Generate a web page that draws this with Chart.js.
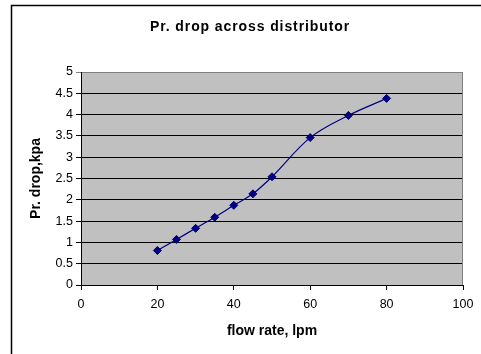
<!DOCTYPE html>
<html>
<head>
<meta charset="utf-8">
<script src="https://cdn.jsdelivr.net/npm/chart.js@4.4.1/dist/chart.umd.min.js"></script>
<style>
  html, body { margin: 0; padding: 0; background: #fff; }
  #wrap { width: 481px; height: 354px; position: relative; }
</style>
</head>
<body>
<div id="wrap"><canvas id="chart" width="481" height="354"></canvas></div>
<script>
// values
const flowRate = [20, 25, 30, 35, 40, 45, 50, 60, 70, 80];
const prDrop = [0.81, 1.07, 1.33, 1.59, 1.87, 2.14, 2.54, 3.46, 3.98, 4.38];
const xTicks = [0, 20, 40, 60, 80, 100];
const yTicks = [0, 0.5, 1, 1.5, 2, 2.5, 3, 3.5, 4, 4.5, 5];
const chartTitle = 'Pr. drop across distributor';

const FONT = "'Liberation Sans', Arial, sans-serif";

// outer frame, plot background, title, right border of plot area
const frame = {
  id: 'frame',
  beforeDraw(chart) {
    const ctx = chart.ctx;
    ctx.save();
    ctx.strokeStyle = '#000';
    ctx.lineWidth = 1.5;
    ctx.beginPath();
    ctx.moveTo(11.5, 360);
    ctx.lineTo(11.5, 5.5);
    ctx.lineTo(490, 5.5);
    ctx.stroke();
    const a = chart.chartArea;
    ctx.fillStyle = '#c0c0c0';
    ctx.fillRect(a.left, a.top, a.right - a.left, a.bottom - a.top);
    ctx.fillStyle = '#000';
    ctx.font = 'bold 14px ' + FONT;
    ctx.letterSpacing = '0.9px';
    ctx.textAlign = 'center';
    ctx.textBaseline = 'middle';
    ctx.fillText(chartTitle, 250, 27);
    ctx.restore();
  },
  afterDatasetsDraw(chart) {
    const ctx = chart.ctx;
    const a = chart.chartArea;
    ctx.save();
    ctx.strokeStyle = '#808080';
    ctx.lineWidth = 1;
    ctx.beginPath();
    ctx.moveTo(Math.round(a.right) - 0.5, a.top);
    ctx.lineTo(Math.round(a.right) - 0.5, a.bottom);
    ctx.stroke();
    ctx.restore();
  }
};

new Chart(document.getElementById('chart'), {
  type: 'line',
  data: {
    datasets: [{
      data: flowRate.map((x, i) => ({ x: x, y: prDrop[i] })),
      borderColor: '#000080',
      backgroundColor: '#000080',
      borderWidth: 1.2,
      pointStyle: 'rectRot',
      pointRadius: 4,
      pointBorderWidth: 1,
      tension: 0.35
    }]
  },
  options: {
    responsive: false,
    animation: false,
    layout: { padding: { left: 0, right: 18, top: 72, bottom: 0 } },
    plugins: {
      legend: { display: false },
      tooltip: { enabled: false },
      title: { display: false }
    },
    scales: {
      x: {
        type: 'linear',
        min: 0,
        max: 100,
        afterBuildTicks: s => { s.ticks = xTicks.map(v => ({ value: v })); },
        afterFit: s => { s.height = 69; },
        grid: {
          drawOnChartArea: false,
          drawTicks: true,
          tickLength: 5,
          color: '#000'
        },
        border: { color: '#000', width: 1 },
        ticks: {
          color: '#000',
          padding: 7,
          font: { family: FONT, size: 12.5 },
          callback: v => String(v)
        },
        title: {
          display: true,
          text: 'flow rate, lpm',
          color: '#000',
          font: { family: FONT, size: 14, weight: 'bold', lineHeight: 1.2 },
          padding: { top: 0, bottom: 14.6 }
        }
      },
      y: {
        min: 0,
        max: 5,
        afterBuildTicks: s => { s.ticks = yTicks.map(v => ({ value: v })); },
        afterFit: s => { s.width = 81; },
        grid: {
          drawTicks: true,
          tickLength: 5,
          color: c => (c.tick && c.tick.value === 5 ? '#808080' : '#000')
        },
        border: { color: '#000', width: 1 },
        ticks: {
          color: '#000',
          padding: 3,
          font: { family: FONT, size: 12.5 },
          callback: v => String(v)
        },
        title: {
          display: true,
          text: 'Pr. drop,kpa',
          color: '#000',
          font: { family: FONT, size: 14, weight: 'bold', lineHeight: 1.2 },
          padding: { top: 27.6, bottom: 0 }
        }
      }
    }
  },
  plugins: [frame]
});
</script>
</body>
</html>
